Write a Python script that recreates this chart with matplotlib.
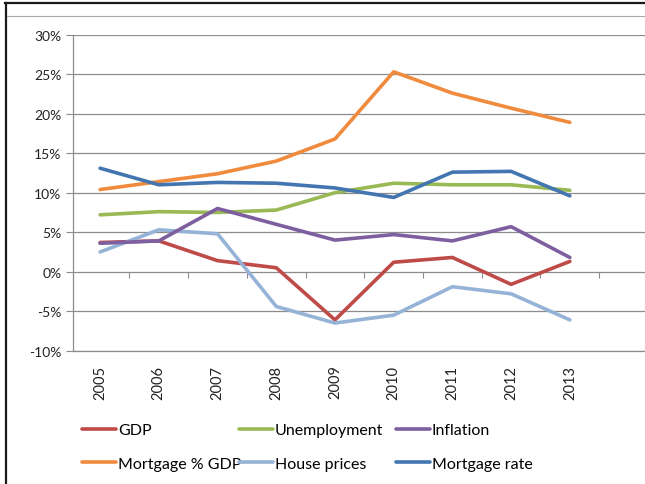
import numpy as np
import matplotlib.pyplot as plt
from matplotlib.lines import Line2D

years = ['2005', '2006', '2007', '2008', '2009', '2010', '2011', '2012', '2013']
gdp = [3.7, 3.9, 1.4, 0.5, -6.1, 1.2, 1.8, -1.6, 1.3]
unemployment = [7.2, 7.6, 7.5, 7.8, 10.0, 11.2, 11.0, 11.0, 10.3]
inflation = [3.6, 3.9, 8.0, 6.0, 4.0, 4.7, 3.9, 5.7, 1.8]
mortgage_gdp = [10.4, 11.4, 12.4, 14.0, 16.8, 25.3, 22.6, 20.7, 18.9]
house_prices = [2.5, 5.3, 4.8, -4.4, -6.5, -5.5, -1.9, -2.8, -6.1]
mortgage_rate = [13.1, 11.0, 11.3, 11.2, 10.6, 9.4, 12.6, 12.7, 9.6]

series = [
    ('GDP', gdp, '#BE4B48'),
    ('Mortgage % GDP', mortgage_gdp, '#F08B3E'),
    ('Unemployment', unemployment, '#98B954'),
    ('House prices', house_prices, '#95B3D7'),
    ('Inflation', inflation, '#7D5FA0'),
    ('Mortgage rate', mortgage_rate, '#4375B0'),
]

plt.rcParams['font.family'] = ['Lato', 'DejaVu Sans']
grid_c = '#8c8c8c'

fig = plt.figure(figsize=(6.45, 4.85), dpi=100)
ax = fig.add_axes([72.5 / 645, 133.3 / 485, 1 - 72.5 / 645, 316 / 485])

x = np.arange(len(years))
handles = []
for name, vals, col in series:
    h, = ax.plot(x, vals, color=col, lw=2.6, label=name, solid_capstyle='round', solid_joinstyle='round')
    handles.append(h)

ax.set_ylim(-10, 30)
ax.set_yticks(np.arange(-10, 31, 5))
ax.set_yticklabels([f'{v}%' for v in range(-10, 31, 5)])
ax.set_xlim(-0.47, 9.28)
ax.set_xticks(x)
ax.set_xticklabels(years, rotation=90)
ax.tick_params(axis='x', length=0, pad=10, labelsize=10.5, labelcolor='#222222')
ax.tick_params(axis='y', length=5, width=0.8, color=grid_c, pad=3, labelsize=10, labelcolor='#222222')
ax.grid(axis='y', color=grid_c, lw=0.9)
ax.set_axisbelow(True)
for s in ['top', 'right']:
    ax.spines[s].set_visible(False)
for s in ['left', 'bottom']:
    ax.spines[s].set_color(grid_c)
    ax.spines[s].set_linewidth(0.9)

# category axis crosses at 0%
sec = ax.secondary_xaxis(0.25)
sec.set_xticks(np.arange(0.5, 9, 1))
sec.tick_params(axis='x', direction='out', length=4, width=0.8, color=grid_c, labelbottom=False)
sec.spines['bottom'].set_visible(False)

# legend: three columns of two entries, placed like Excel does
for i, left in enumerate([82, 239, 396]):
    pair = handles[2 * i:2 * i + 2]
    fig.legend(pair, [h.get_label() for h in pair], loc='upper left',
               bbox_to_anchor=(left / 645, 1 - 424 / 485), frameon=False,
               fontsize=11.5, handlelength=2.1, handletextpad=0.15,
               labelspacing=1.2, borderaxespad=0, borderpad=0)

# frame lines of the screenshot
fig.add_artist(Line2D([5 / 645, 1], [1 - 4 / 485, 1 - 4 / 485], color='#1a1a1a', lw=1.6))
fig.add_artist(Line2D([6 / 645, 6 / 645], [0, 1 - 4 / 485], color='#1a1a1a', lw=1.6))
fig.add_artist(Line2D([7 / 645, 1], [1 - 17 / 485, 1 - 17 / 485], color='#aaaaaa', lw=0.8))

fig.savefig('out.png', dpi=100)
